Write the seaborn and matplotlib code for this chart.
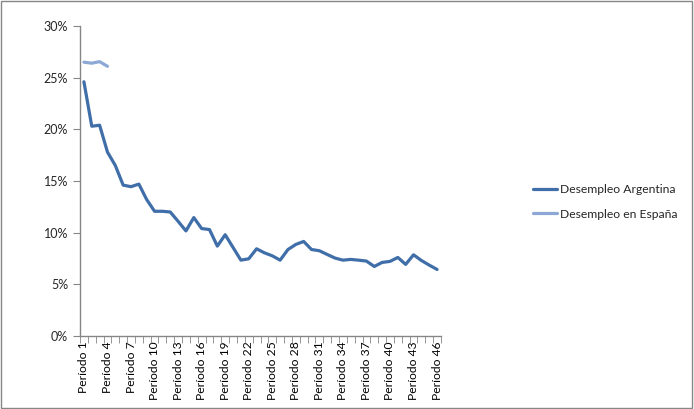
import matplotlib
matplotlib.use('Agg')
import matplotlib.pyplot as plt
from matplotlib.patches import Rectangle
from matplotlib.ticker import FixedLocator, PercentFormatter
import seaborn as sns
import pandas as pd

# Tasas de desempleo (%)
periodos = [f'Período {i}' for i in range(1, 47)]
desempleo_argentina = [24.6, 20.3, 20.4, 17.8, 16.5, 14.6, 14.45, 14.7, 13.2, 12.07,
                       12.07, 12.0, 11.1, 10.17, 11.46, 10.4, 10.3, 8.7, 9.8, 8.57,
                       7.34, 7.47, 8.44, 8.05, 7.76, 7.34, 8.37, 8.86, 9.15, 8.37,
                       8.25, 7.89, 7.54, 7.34, 7.41, 7.34, 7.25, 6.73, 7.12, 7.22,
                       7.6, 6.93, 7.86, 7.31, 6.86, 6.44]
desempleo_espana = [26.5, 26.4, 26.55, 26.1]

df_arg = pd.DataFrame({'pos': range(len(desempleo_argentina)), 'valor': desempleo_argentina})
df_esp = pd.DataFrame({'pos': range(len(desempleo_espana)), 'valor': desempleo_espana})

sns.set_style('white')
plt.rcParams['font.family'] = ['Lato', 'DejaVu Sans']

fig = plt.figure(figsize=(6.94, 4.09), dpi=100)
ax = fig.add_axes([80 / 694, 73 / 409, 361 / 694, 310 / 409])

sns.lineplot(data=df_arg, x='pos', y='valor', ax=ax, color='#3F6EA9', linewidth=2.3,
             label='Desempleo Argentina')
sns.lineplot(data=df_esp, x='pos', y='valor', ax=ax, color='#8EA8D6', linewidth=2.3,
             label='Desempleo en España')

gris = '#868686'
ax.set_xlim(-0.5, len(periodos) - 0.5)
ax.set_ylim(0, 30)
ax.set_yticks(range(0, 31, 5))
ax.yaxis.set_major_formatter(PercentFormatter(decimals=0))
ax.set_xticks(range(0, len(periodos), 3))
ax.set_xticklabels(periodos[::3], rotation=90)
ax.xaxis.set_minor_locator(FixedLocator([i - 0.5 for i in range(len(periodos) + 1)]))
ax.tick_params(axis='x', which='major', length=0, pad=4, labelsize=8.7, colors='black')
ax.tick_params(axis='x', which='minor', length=5, direction='out', color=gris, bottom=True)
ax.tick_params(axis='y', length=5, direction='out', color=gris, left=True, labelsize=9)
ax.set_xlabel('')
ax.set_ylabel('')
for lado in ['top', 'right']:
    ax.spines[lado].set_visible(False)
for lado in ['left', 'bottom']:
    ax.spines[lado].set_color(gris)
    ax.spines[lado].set_linewidth(1)
ax.grid(False)

ax.legend(loc='center left', bbox_to_anchor=(1.225, 0.432), frameon=False, fontsize=8.7,
          handlelength=2.0, handletextpad=0.2, labelspacing=1.1)

fig.patches.append(Rectangle((0.002, 0.003), 0.995, 0.994, transform=fig.transFigure,
                             fill=False, edgecolor=gris, linewidth=1))

fig.savefig('out.png', dpi=100)
